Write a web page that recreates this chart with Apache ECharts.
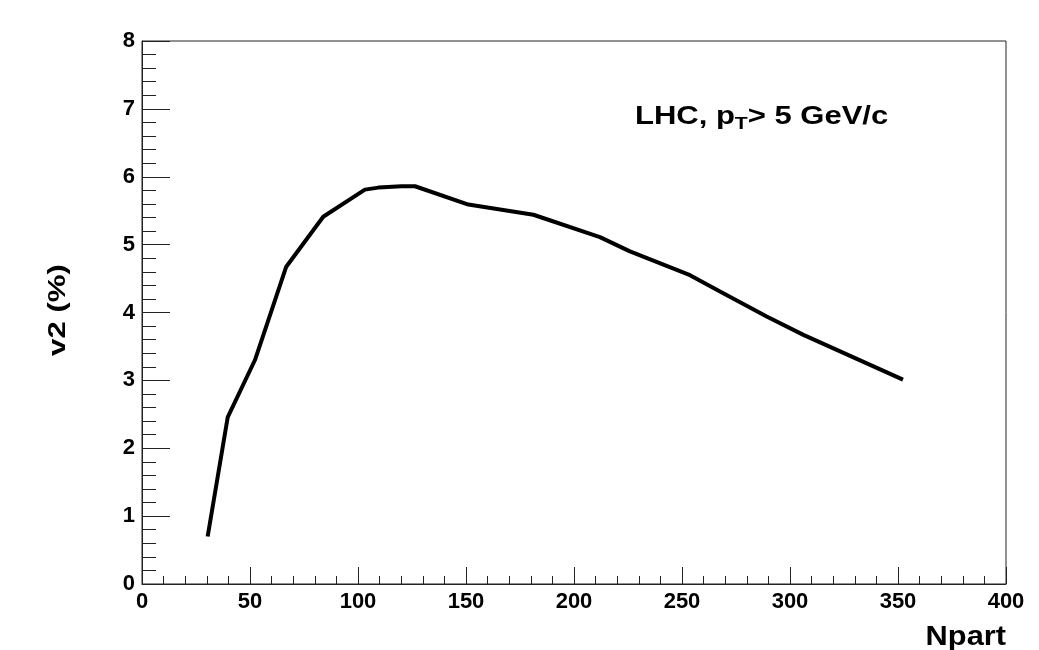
<!DOCTYPE html>
<html>
<head>
<meta charset="utf-8">
<script src="https://cdn.jsdelivr.net/npm/echarts@6/dist/echarts.min.js"></script>
<style>
  html, body { margin: 0; padding: 0; background: #fff; }
  #chart { width: 1039px; height: 650px; }
</style>
</head>
<body>
<div id="chart"></div>
<script>
// Npart vs v2 (%)
const npart = [30.4, 39.7, 52.3, 66.7, 83.9, 103.2, 109.4, 120.2, 126.4, 151.1, 181.2, 212.0, 225.9, 253.7, 267.6, 289.2, 306.2, 352.3];
const v2 = [0.70, 2.46, 3.30, 4.67, 5.41, 5.81, 5.84, 5.86, 5.86, 5.59, 5.44, 5.11, 4.90, 4.55, 4.31, 3.94, 3.67, 3.01];

const chart = echarts.init(document.getElementById("chart"));
const font = "Liberation Sans, Arial, sans-serif";

chart.setOption({
  animation: false,
  grid: {
    left: 142, right: 33, top: 41, bottom: 66,
    show: true, borderColor: "#222", borderWidth: 1, backgroundColor: "transparent",
  },
  xAxis: {
    type: "value", min: 0, max: 400, interval: 50,
    axisLine: { lineStyle: { color: "#222", width: 1 } },
    axisTick: { inside: true, length: 17, lineStyle: { color: "#222" } },
    minorTick: { show: true, splitNumber: 5, length: 8, lineStyle: { color: "#222" } },
    splitLine: { show: false },
    axisLabel: { color: "#000", fontFamily: font, fontWeight: "bold", fontSize: 22, margin: 7 },
  },
  yAxis: {
    type: "value", min: 0, max: 8, interval: 1,
    axisLine: { show: true, lineStyle: { color: "#222", width: 1 } },
    axisTick: { show: true, inside: true, length: 28, lineStyle: { color: "#222" } },
    minorTick: { show: true, splitNumber: 5, length: 14, lineStyle: { color: "#222" } },
    splitLine: { show: false },
    axisLabel: { color: "#000", fontFamily: font, fontWeight: "bold", fontSize: 22, margin: 7 },
  },
  graphic: [
    {
      type: "text", x: 58, y: 310, rotation: Math.PI / 2, scaleX: 1.3,
      style: { text: "v2 (%)", fill: "#000", font: "bold 24px " + font, align: "center", verticalAlign: "middle" },
    },
    {
      type: "text", x: 1006, y: 637, scaleX: 1.1,
      style: { text: "Npart", fill: "#000", font: "bold 28px " + font, align: "right", verticalAlign: "middle" },
    },
    {
      type: "text", x: 635, y: 117, scaleX: 1.24,
      style: {
        text: "LHC, p{sub|T}> 5 GeV/c",
        fill: "#000", font: "bold 25px " + font, verticalAlign: "middle",
        rich: { sub: { fontSize: 17, fontWeight: "bold", fontFamily: font, padding: [14, 0, 0, 0] } },
      },
    },
  ],
  series: [
    {
      type: "line",
      data: npart.map((x, i) => [x, v2[i]]),
      showSymbol: false,
      lineStyle: { color: "#000", width: 4 },
    },
  ],
});
</script>
</body>
</html>
